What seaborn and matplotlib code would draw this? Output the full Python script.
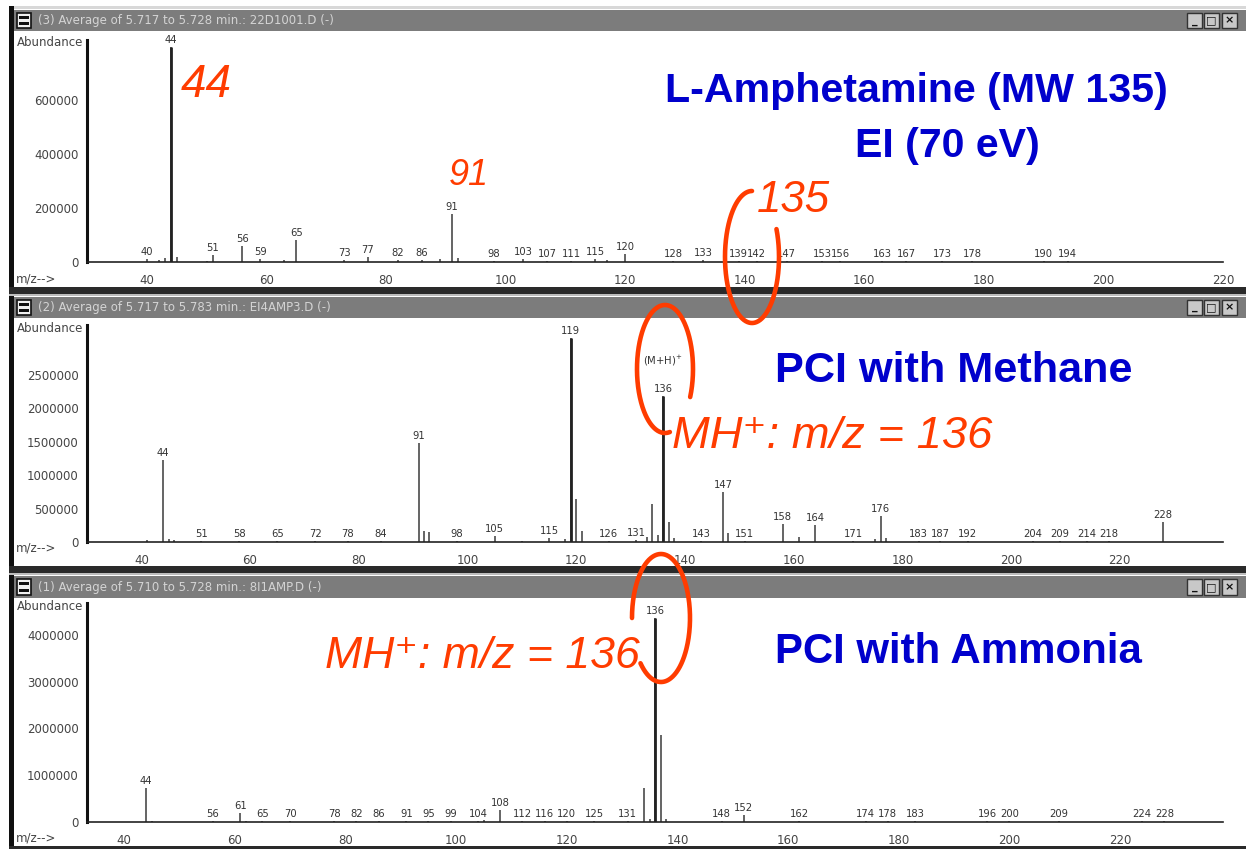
import numpy as np
import matplotlib
matplotlib.use("Agg")
import matplotlib.pyplot as plt
import seaborn as sns
from matplotlib.patches import Rectangle
from matplotlib.lines import Line2D
from matplotlib.ticker import MultipleLocator, FuncFormatter

# ---------------- data ----------------
# Panel 1: EI (70 eV)
ei_mz = [40, 42, 43, 44, 45, 50, 51, 56, 59, 63, 65, 73, 77, 82, 86, 89, 91, 92,
         98, 103, 107, 111, 115, 117, 120, 128, 133, 139, 142, 147, 153, 156,
         163, 167, 173, 178, 190, 194]
ei_abund = [12000, 6000, 14000, 796000, 18000, 5000, 25000, 60000, 12000, 7000,
            80000, 8000, 18000, 7000, 7000, 12000, 178000, 15000, 5000, 10000,
            5000, 5000, 10000, 8000, 30000, 4000, 6000, 4000, 5000, 4000, 3000,
            3000, 3000, 3000, 3000, 3000, 3000, 3000]
ei_labels = [40, 44, 51, 56, 59, 65, 73, 77, 82, 86, 91, 98, 103, 107, 111, 115,
             120, 128, 133, 139, 142, 147, 153, 156, 163, 167, 173, 178, 190, 194]
ei_yticks = [0, 200000, 400000, 600000]

# Panel 2: PCI with methane
me_mz = [41, 44, 45, 46, 51, 58, 65, 72, 78, 84, 91, 92, 93, 98, 105, 110, 115,
         118, 119, 120, 121, 126, 131, 133, 134, 135, 136, 137, 138, 143, 147,
         148, 151, 158, 161, 164, 171, 175, 176, 177, 183, 187, 192, 204, 209,
         214, 218, 228]
me_abund = [30000, 1230000, 40000, 30000, 12000, 12000, 12000, 12000, 12000,
            12000, 1480000, 160000, 150000, 12000, 90000, 20000, 60000, 40000,
            3040000, 640000, 160000, 20000, 30000, 80000, 560000, 100000,
            2180000, 300000, 60000, 20000, 740000, 130000, 20000, 270000, 70000,
            250000, 20000, 40000, 390000, 60000, 12000, 12000, 12000, 12000,
            20000, 12000, 12000, 300000]
me_labels = [44, 51, 58, 65, 72, 78, 84, 91, 98, 105, 115, 119, 126, 131, 136,
             143, 147, 151, 158, 164, 171, 176, 183, 187, 192, 204, 209, 214,
             218, 228]
me_yticks = [0, 500000, 1000000, 1500000, 2000000, 2500000]

# Panel 3: PCI with ammonia
am_mz = [44, 45, 56, 61, 62, 65, 70, 78, 82, 86, 91, 95, 99, 104, 105, 108, 112,
         116, 120, 125, 131, 134, 135, 136, 137, 138, 148, 152, 162, 174, 178,
         183, 196, 200, 209, 224, 228]
am_abund = [730000, 30000, 20000, 200000, 30000, 20000, 20000, 20000, 20000,
            20000, 20000, 20000, 20000, 20000, 50000, 260000, 20000, 20000,
            20000, 20000, 30000, 730000, 60000, 4350000, 1860000, 70000, 20000,
            150000, 20000, 20000, 20000, 20000, 20000, 20000, 20000, 20000, 20000]
am_labels = [44, 56, 61, 65, 70, 78, 82, 86, 91, 95, 99, 104, 108, 112, 116, 120,
             125, 131, 136, 148, 152, 162, 174, 178, 183, 196, 200, 209, 224, 228]
am_yticks = [0, 1000000, 2000000, 3000000, 4000000]

x_major = [40, 60, 80, 100, 120, 140, 160, 180, 200, 220]

window_titles = [
    "(3) Average of 5.717 to 5.728 min.: 22D1001.D (-)",
    "(2) Average of 5.717 to 5.783 min.: EI4AMP3.D (-)",
    "(1) Average of 5.710 to 5.728 min.: 8I1AMP.D (-)",
]

# ---------------- style ----------------
sns.set_style("white")
plt.rcParams["font.family"] = ["DejaVu Sans"]
ANN_FONT = ["Liberation Sans Narrow", "Liberation Sans", "DejaVu Sans"]
RED = "#ff3c00"
BLUE = "#0000cc"
W, H = 1246, 849

fig = plt.figure(figsize=(W / 100, H / 100), dpi=100)
fig.patch.set_facecolor("white")


def fx(x):
    return x / W


def fy(y):
    return 1 - y / H


def rect_px(x0, y0, x1, y1, color, z=1, ec="none", lw=0):
    fig.add_artist(Rectangle((fx(x0), fy(y1)), (x1 - x0) / W, (y1 - y0) / H,
                             transform=fig.transFigure, facecolor=color,
                             edgecolor=ec, linewidth=lw, zorder=z))


# ---------------- window decorations ----------------
rect_px(9, 6, 14, 849, "#101010", z=2)            # left frame
rect_px(14, 6, 1246, 9, "#d8d8d8", z=1)
bars = [(10, 31), (297, 318), (576, 598)]
seps = [(287, 296), (566, 575)]
for (y0, y1) in seps:
    rect_px(9, y0, 1246, y1, "#2a2a2a", z=2)
    rect_px(9, y1 - 2, 1246, y1, "#bdbdbd", z=2)
rect_px(9, 846, 1246, 849, "#2a2a2a", z=2)
for i, (y0, y1) in enumerate(bars):
    rect_px(14, y0, 1246, y1, "#7c7c7c", z=2)
    rect_px(17, y0 + 3, 31, y1 - 3, "#f0f0f0", z=3, ec="#111111", lw=1.2)
    rect_px(19, y0 + 6, 29, y0 + 9, "#111111", z=4)
    rect_px(19, y1 - 9, 29, y1 - 6, "#111111", z=4)
    fig.text(fx(38), fy((y0 + y1) / 2), window_titles[i], ha="left",
             va="center", fontsize=8.5, color="#d4d4d4", zorder=4)
    for bx, glyph in zip([1187, 1204, 1222], ["_", "□", "×"]):
        rect_px(bx, y0 + 3, bx + 15, y1 - 3, "#c8c8c8", z=3, ec="#333333",
                lw=1)
        fig.text(fx(bx + 7.5), fy((y0 + y1) / 2), glyph, ha="center",
                 va="center", fontsize=8, color="#111111", zorder=4,
                 fontweight="bold")

# ---------------- spectra ----------------
panels = [
    dict(mz=ei_mz, ab=ei_abund, lab=ei_labels, yt=ei_yticks,
         px=(87, 40, 1223, 262), xlim=(30.0, 209.6), ylim=(0, 822000),
         ymin=20000, absy=43, mzy=279),
    dict(mz=me_mz, ab=me_abund, lab=me_labels, yt=me_yticks,
         px=(87, 325, 1223, 542), xlim=(30.0, 239.0), ylim=(0, 3240000),
         ymin=50000, absy=329, mzy=548),
    dict(mz=am_mz, ab=am_abund, lab=am_labels, yt=am_yticks,
         px=(87, 603, 1223, 822), xlim=(33.3, 238.6), ylim=(0, 4680000),
         ymin=100000, absy=607, mzy=838),
]

axes = []
for p in panels:
    l, t, r, b = p["px"]
    ax = fig.add_axes([fx(l), fy(b), (r - l) / W, (b - t) / H])
    ax.patch.set_alpha(0)
    ax.vlines(p["mz"], 0, p["ab"], colors="#3a3a3a", linewidth=1.1)
    big = max(p["ab"])
    for m, a in zip(p["mz"], p["ab"]):
        if a > 0.5 * big:
            ax.vlines([m], 0, [a], colors="#222222", linewidth=2.0)
    for m, a in zip(p["mz"], p["ab"]):
        if m in p["lab"]:
            ax.annotate(str(m), (m, a), xytext=(0, 1.5),
                        textcoords="offset points", ha="center", va="bottom",
                        fontsize=7.2, color="#333333", annotation_clip=False)
    ax.set_xlim(*p["xlim"])
    ax.set_ylim(*p["ylim"])
    sns.despine(ax=ax)
    ax.spines["left"].set_linewidth(2.2)
    ax.spines["bottom"].set_linewidth(1.2)
    ax.spines["left"].set_color("#111111")
    ax.spines["bottom"].set_color("#222222")
    ax.set_xticks(x_major)
    ax.xaxis.set_minor_locator(MultipleLocator(4))
    ax.set_yticks(p["yt"])
    ax.yaxis.set_minor_locator(MultipleLocator(p["ymin"]))
    ax.yaxis.set_major_formatter(FuncFormatter(lambda v, pos: f"{int(v)}"))
    ax.tick_params(axis="x", which="major", direction="out", length=8,
                   width=1.2, labelsize=8.5, labelcolor="#444444", pad=1,
                   color="#222222")
    ax.tick_params(axis="x", which="minor", direction="inout", length=6,
                   width=1, color="#333333")
    ax.tick_params(axis="y", which="major", direction="out", length=4,
                   width=1.2, labelsize=8.5, labelcolor="#444444", pad=2,
                   color="#222222")
    ax.tick_params(axis="y", which="minor", direction="inout", length=5,
                   width=1.2, color="#222222")
    ax.grid(False)
    fig.text(fx(17), fy(p["absy"]), "Abundance", ha="left", va="center",
             fontsize=8.5, color="#444444")
    fig.text(fx(16), fy(p["mzy"]), "m/z-->", ha="left", va="center",
             fontsize=8.5, color="#444444")
    axes.append(ax)

# (M+H)+ tag above the methane 136 peak
axes[1].annotate("(M+H)$^{+}$", (136, 2180000), xytext=(0, 20),
                 textcoords="offset points", ha="center", va="bottom",
                 fontsize=7.2, color="#333333", annotation_clip=False)

# ---------------- annotations ----------------
renderer = fig.canvas.get_renderer()


def fit_text(x0, x1, ybase, s, **kw):
    t = fig.text(fx(x0), fy(ybase), s, ha="left", va="baseline",
                 family=ANN_FONT, zorder=12, **kw)
    bb = t.get_window_extent(renderer)
    t.set_fontsize(t.get_fontsize() * (x1 - x0) / bb.width)
    return t


def place_text(x0, ybase, s, size, **kw):
    return fig.text(fx(x0), fy(ybase), s, ha="left", va="baseline",
                    family=ANN_FONT, zorder=12, fontsize=size, **kw)


fit_text(665, 1168, 102, "L-Amphetamine (MW 135)", fontsize=30,
         fontweight="bold", color=BLUE)
fit_text(855, 1040, 157, "EI (70 eV)", fontsize=30, fontweight="bold",
         color=BLUE)
fit_text(775, 1133, 382, "PCI with Methane", fontsize=30, fontweight="bold",
         color=BLUE)
fit_text(775, 1142, 663, "PCI with Ammonia", fontsize=30, fontweight="bold",
         color=BLUE)

place_text(181, 97, "44", 33, style="italic", color=RED)
fit_text(449, 489, 185, "91", fontsize=30, style="italic", color=RED)
fit_text(757, 830, 212, "135", fontsize=30, style="italic", color=RED)
fit_text(672, 992, 448, "MH\u207a: m/z = 136", fontsize=30, style="italic",
         color=RED)
fit_text(325, 640, 668, "MH\u207a: m/z = 136", fontsize=30, style="italic",
         color=RED)


def ell(cx, cy, a, b, t1, t2):
    t = np.deg2rad(np.linspace(t1, t2, 300))
    xs = fx(cx + a * np.cos(t))
    ys = fy(cy - b * np.sin(t))
    fig.add_artist(Line2D(xs, ys, transform=fig.transFigure, color=RED,
                          lw=3.3, zorder=11, solid_capstyle="round"))


ell(752, 257, 27, 66, 90, 385)
ell(665, 369, 28, 64, -26, 280)
ell(661, 618, 29, 64, 225, 540)

fig.savefig("out.png", dpi=100, facecolor="white")
